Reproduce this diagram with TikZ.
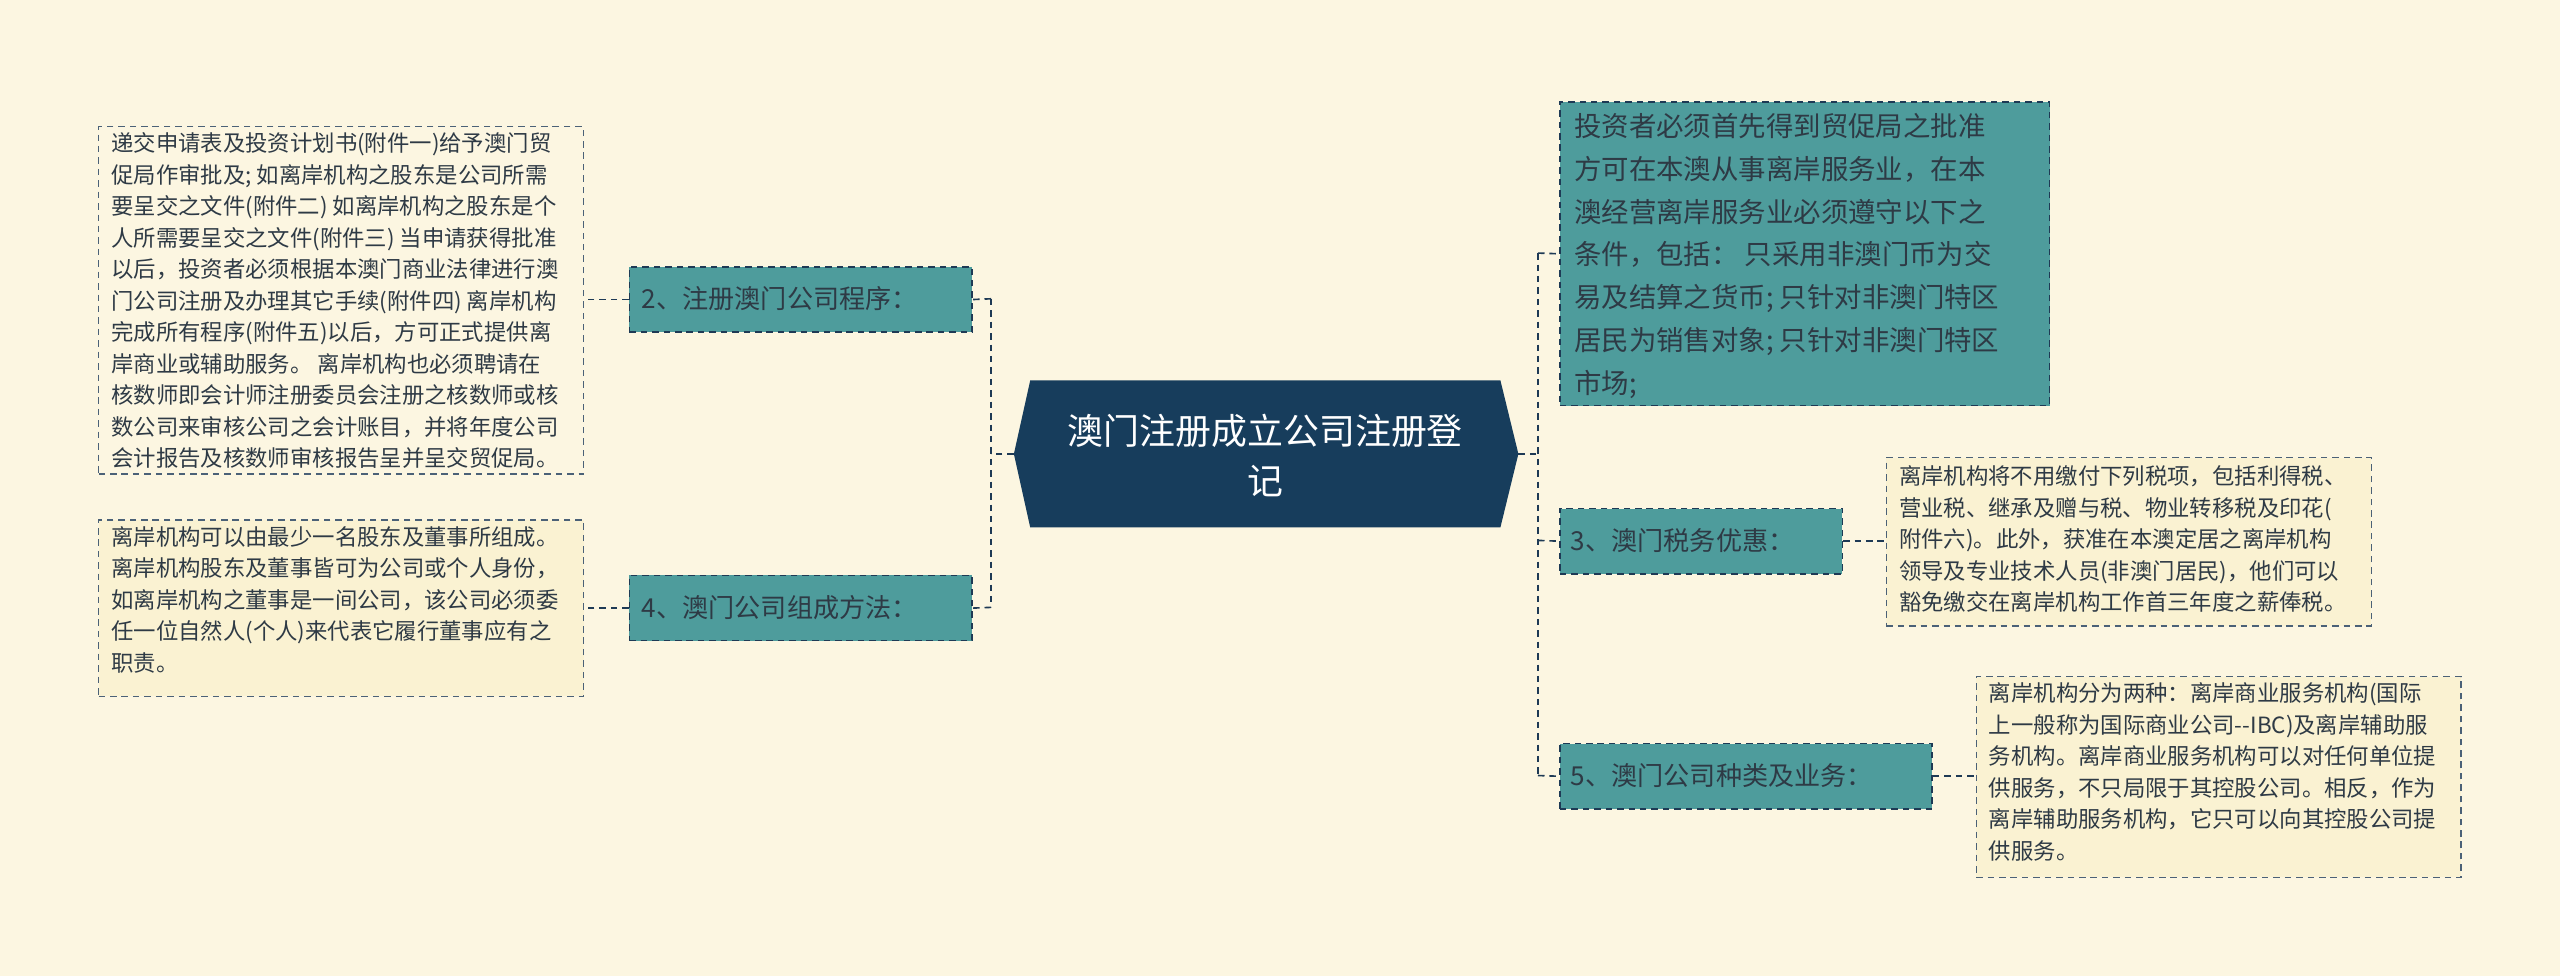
\documentclass[tikz,border=0pt]{standalone}
\usepackage{fontspec}
\setmainfont{Noto Sans CJK SC}
\usetikzlibrary{positioning}
\definecolor{bg}{HTML}{FCF6E1}
\definecolor{navy}{HTML}{173D5C}
\definecolor{teal}{HTML}{4E9C9C}
\definecolor{leaf}{HTML}{FAF2D2}
\definecolor{txt}{HTML}{2E3A45}
\definecolor{ln}{HTML}{1E3A55}
\begin{document}
\begin{tikzpicture}[x=1pt,y=-1pt,
 br/.style={draw=ln,dash pattern=on 4pt off 3pt,line width=0.9pt,fill=teal,inner sep=0pt,anchor=north west},
 bt/.style={anchor=west,text=txt,font=\fontsize{16}{19}\selectfont,inner sep=0pt},
 lf/.style={draw=ln!80,dash pattern=on 4pt off 3pt,line width=0.8pt,inner sep=0pt,anchor=north west},
 lt/.style={text=txt,font=\fontsize{13.7}{19.3}\selectfont,inner sep=0pt,anchor=north west,align=left},
 con/.style={draw=ln,dash pattern=on 4pt off 3pt,line width=1pt}]
\fill[bg] (0,0) rectangle (1568,598);
\useasboundingbox (0,0) rectangle (1568,598);
% center
\fill[navy] (621,278) -- (631,233) -- (919,233) -- (930,278) -- (919,323) -- (631,323) -- cycle;
\node[text=white,font=\fontsize{22}{31}\selectfont,align=center] (c) at (775,279) {澳门注册成立公司注册登\\记};
\coordinate (cl) at (621,278); \coordinate (cr) at (930,278);
% left branches
\node[br,minimum width=210,minimum height=40] (b2) at (385,163) {};
\node[bt] at (393,183) {2、注册澳门公司程序：};
\node[br,minimum width=210,minimum height=40] (b4) at (385,352) {};
\node[bt] at (393,372) {4、澳门公司组成方法：};
\node[lf,minimum width=297,minimum height=213,fill=bg] (l1) at (60,77) {};
\node[lt] at (68,81) {递交申请表及投资计划书(附件一)给予澳门贸\\促局作审批及; 如离岸机构之股东是公司所需\\要呈交之文件(附件二) 如离岸机构之股东是个\\人所需要呈交之文件(附件三) 当申请获得批准\\以后，投资者必须根据本澳门商业法律进行澳\\门公司注册及办理其它手续(附件四) 离岸机构\\完成所有程序(附件五)以后，方可正式提供离\\岸商业或辅助服务。 离岸机构也必须聘请在\\核数师即会计师注册委员会注册之核数师或核\\数公司来审核公司之会计账目，并将年度公司\\会计报告及核数师审核报告呈并呈交贸促局。};
\node[lf,minimum width=297,minimum height=108,fill=leaf] (l2) at (60,318) {};
\node[lt] at (68,322) {离岸机构可以由最少一名股东及董事所组成。\\离岸机构股东及董事皆可为公司或个人身份，\\如离岸机构之董事是一间公司，该公司必须委\\任一位自然人(个人)来代表它履行董事应有之\\职责。};
% right
\node[br,minimum width=300,minimum height=186] (r1) at (955,62) {};
\node[lt,font=\fontsize{16.8}{26.3}\selectfont] at (964,69) {投资者必须首先得到贸促局之批准\\方可在本澳从事离岸服务业，在本\\澳经营离岸服务业必须遵守以下之\\条件，包括：  只采用非澳门币为交\\易及结算之货币; 只针对非澳门特区\\居民为销售对象; 只针对非澳门特区\\市场;};
\node[br,minimum width=173,minimum height=40] (r3) at (955,311) {};
\node[bt] at (962,331) {3、澳门税务优惠：};
\node[br,minimum width=228,minimum height=40] (r5) at (955,455) {};
\node[bt] at (962,475) {5、澳门公司种类及业务：};
\node[lf,minimum width=297,minimum height=103,fill=leaf] (l3) at (1155,280) {};
\node[lt] at (1163,285) {离岸机构将不用缴付下列税项，包括利得税、\\营业税、继承及赠与税、物业转移税及印花(\\附件六)。此外，获准在本澳定居之离岸机构\\领导及专业技术人员(非澳门居民)，他们可以\\豁免缴交在离岸机构工作首三年度之薪俸税。};
\node[lf,minimum width=297,minimum height=123,fill=leaf] (l5) at (1210,414) {};
\node[lt] at (1218,418) {离岸机构分为两种：离岸商业服务机构(国际\\上一般称为国际商业公司-{}-IBC)及离岸辅助服\\务机构。离岸商业服务机构可以对任何单位提\\供服务，不只局限于其控股公司。相反，作为\\离岸辅助服务机构，它只可以向其控股公司提\\供服务。};
% connectors
\draw[con] (cl) -- (607,278);
\draw[con] (607,183) -- (607,372);
\draw[con] (607,183) -- (b2.east); \draw[con] (607,372) -- (b4.east);
\draw[con] (b2.west) -- (l1.east|-b2.west);
\draw[con] (b4.west) -- (l2.east|-b4.west);
\draw[con] (cr) -- (942,278);
\draw[con] (942,155) -- (942,475);
\draw[con] (942,155) -- (r1.west); \draw[con] (942,331) -- (r3.west); \draw[con] (942,475) -- (r5.west);
\draw[con] (r3.east) -- (l3.west|-r3.east);
\draw[con] (r5.east) -- (l5.west|-r5.east);
\end{tikzpicture}
\end{document}
